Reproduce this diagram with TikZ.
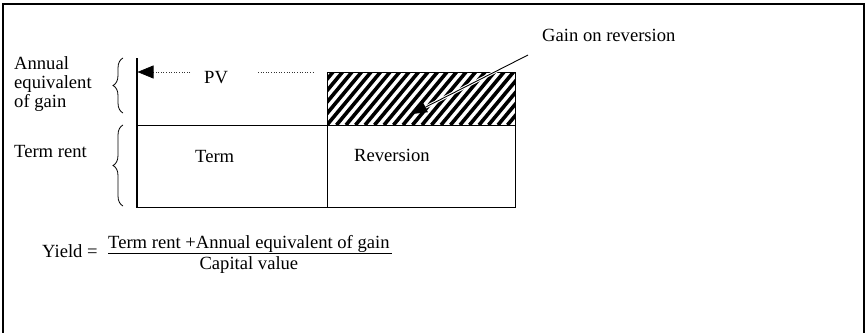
\documentclass[tikz,border=0pt]{standalone}
\usepackage{fontspec}
\setmainfont{Liberation Serif}
\usetikzlibrary{arrows.meta,decorations.pathreplacing}
\begin{document}
\begin{tikzpicture}[x=1pt,y=-1pt,
  lbl/.style={anchor=base west,inner sep=0pt,font=\fontsize{18.6}{19}\selectfont},
  boxline/.style={line width=1pt},
  dotline/.style={dotted,line width=0.6pt,black!80},
  brc/.style={decorate,decoration={brace,amplitude=10pt},line width=0.8pt}]
\useasboundingbox (0,0) rectangle (867,332);
% frame
\draw[line width=1.2pt] (3,333) -- (3,4) -- (864,4) -- (864,333);
% hatched region
\begin{scope}
  \clip (327,72) rectangle (515,125);
  \foreach \x in {270,279.5,...,525} \draw[line width=3.6pt] (\x,125) -- ({\x+44},72);
\end{scope}
% boxes
\node[boxline,draw,minimum width=190pt,minimum height=82pt,inner sep=0pt,anchor=north west] (term) at (137,125) {};
\node[boxline,draw,minimum width=188pt,minimum height=82pt,inner sep=0pt,anchor=north west] (rev) at (327,125) {};
\node[boxline,draw,minimum width=188pt,minimum height=53pt,inner sep=0pt,anchor=north west] (gain) at (327,72) {};
\coordinate (axtop) at (137,58);
\draw[line width=1.3pt] (axtop) -- (term.south west);
% PV arrow
\coordinate (pvtip) at (137.5,72);
\coordinate (pvl) at (190,72);
\coordinate (pvr) at (258,72);
\coordinate (pvend) at (313,72);
\node[lbl] (pv) at (204,83) {PV};
\draw[dotline,-{Triangle[length=16pt,width=13pt,black]}] (pvl) -- (pvtip);
\draw[dotline] (pvr) -- (pvend);
% labels
\node[lbl] (a1) at (14,69) {Annual};
\node[lbl] (a2) at (14,88) {equivalent};
\node[lbl] (a3) at (14,107) {of gain};
\node[lbl] (tr) at (14,157) {Term rent};
\node[lbl] (tt) at (195,162) {Term};
\node[lbl] (rt) at (354,161) {Reversion};
\node[lbl] (gr) at (542,41) {Gain on reversion};
% braces
\coordinate (b1a) at (123,113);
\coordinate (b1b) at (123,58);
\coordinate (b2a) at (123,206);
\coordinate (b2b) at (123,125);
\draw[brc] (b1a) -- (b1b);
\draw[brc] (b2a) -- (b2b);
% gain arrow
\coordinate (gstart) at (528,55);
\coordinate (gtip) at (412,114);
\draw[white,line width=3pt,shorten >=10pt] (gstart) -- (gtip);
\draw[line width=0.9pt,-{Triangle[length=15pt,width=11pt]}] (gstart) -- (gtip);
% formula
\node[lbl] (yl) at (42,257) {Yield =};
\node[lbl] (num) at (108,248) {Term rent +Annual equivalent of gain};
\draw[line width=0.9pt] ([yshift=-1pt]num.south west) -- ([xshift=2pt,yshift=-1pt]num.south east);
\node[lbl,anchor=base] (den) at ([yshift=-21pt]num.base) {Capital value};
\end{tikzpicture}
\end{document}
